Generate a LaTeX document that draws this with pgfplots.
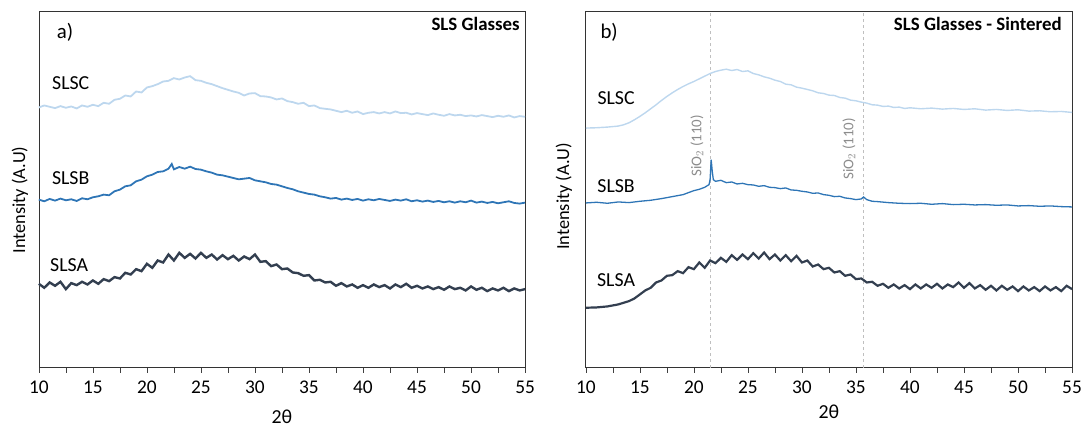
\documentclass[border=0pt]{standalone}
\usepackage{fontspec}
\setmainfont{Carlito}
\usepackage{pgfplots}
\pgfplotsset{compat=1.18}
\definecolor{slsc}{HTML}{BDD7EE}
\definecolor{slsb}{HTML}{2E75B6}
\definecolor{slsa}{HTML}{333F50}
\definecolor{refl}{HTML}{BFBFBF}
\definecolor{reft}{HTML}{8C8C8C}

\pgfplotsset{
  xrd/.style={
    scale only axis, width=488bp, height=358bp,
    xmin=10, xmax=55, ymin=0, ymax=1072,
    xtick={10,15,...,55}, minor xtick={12.5,17.5,...,52.5},
    ytick=\empty, tick align=outside, xtick pos=bottom,
    major tick length=5bp, minor tick length=5bp,
    tick style={black!75, line width=0.6bp},
    axis line style={black!80, line width=0.7bp},
    /pgf/number format/assume math mode=true,
    xticklabel style={font=\fontsize{19.5}{21}\selectfont, yshift=-5bp},
    clip=false,
  },
}
\tikzset{lab/.style={font=\fontsize{20}{22}\selectfont, anchor=center}}

\begin{document}
\begin{tikzpicture}
\useasboundingbox (-39bp,-59bp) rectangle (1048bp,369bp);
% ---- a) as-melted glasses
\begin{axis}[xrd]
\addplot[slsc, line width=1.8bp] table {
10 782
10.5 788
11 784
11.5 780
12 786
12.5 781
13 785
13.5 779
14 788
14.5 784
15 790
15.5 786
16 796
16.5 793
17 805
17.5 808
18 818
18.5 815
19 830
19.5 827
20 842
20.5 846
21 852
21.5 860
22 862
22.5 870
23 866
23.5 872
24 876
24.5 864
25 862
25.5 856
26 852
26.5 846
27 840
27.5 835
28 830
28.5 826
29 818
29.5 824
30 825
30.5 816
31 815
31.5 812
32 806
32.5 809
33 801
33.5 798
34 793
34.5 796
35 786
35.5 788
36 780
36.5 778
37 776
37.5 772
38 768
38.5 772
39 766
39.5 770
40 762
40.5 766
41 768
41.5 764
42 768
42.5 764
43 770
43.5 765
44 766
44.5 761
45 765
45.5 762
46 759
46.5 764
47 760
47.5 757
48 762
48.5 758
49 760
49.5 756
50 758
50.5 755
51 759
51.5 756
52 753
52.5 757
53 754
53.5 758
54 752
54.5 756
55 754
};
\addplot[slsb, line width=1.8bp] table {
10 505
10.5 500
11 507
11.5 502
12 508
12.5 503
13 506
13.5 501
14 509
14.5 506
15 512
15.5 515
16 520
16.5 518
17 530
17.5 535
18 545
18.5 548
19 560
19.5 565
20 575
20.5 580
21 588
21.5 590
22 598
22.3 612
22.5 596
23 603
23.5 598
24 604
24.5 597
25 595
25.5 590
26 586
26.5 580
27 578
27.5 574
28 570
28.5 566
29 568
29.5 570
30 563
30.5 560
31 557
31.5 552
32 550
32.5 545
33 540
33.5 536
34 530
34.5 526
35 522
35.5 520
36 515
36.5 512
37 508
37.5 510
38 505
38.5 508
39 504
39.5 507
40 502
40.5 506
41 503
41.5 507
42 504
42.5 501
43 505
43.5 502
44 506
44.5 500
45 503
45.5 499
46 502
46.5 498
47 501
47.5 497
48 500
48.5 496
49 500
49.5 497
50 502
50.5 496
51 499
51.5 495
52 498
52.5 494
53 497
53.5 500
54 495
54.5 493
55 496
};
\addplot[slsa, line width=2.4bp] table {
10 252
10.5 240
11 256
11.5 246
12 258
12.5 236
13 254
13.5 248
14 258
14.5 250
15 262
15.5 252
16 266
16.5 260
17 272
17.5 268
18 285
18.5 280
19 296
19.5 290
20 312
20.5 300
21 322
21.5 316
22 340
22.5 322
23 345
23.5 330
24 342
24.5 328
25 345
25.5 330
26 340
26.5 325
27 338
27.5 326
28 336
28.5 322
29 334
29.5 326
30 340
30.5 318
31 320
31.5 305
32 310
32.5 296
33 298
33.5 286
34 284
34.5 276
35 278
35.5 262
36 264
36.5 256
37 258
37.5 246
38 254
38.5 244
39 250
39.5 240
40 248
40.5 240
41 250
41.5 242
42 248
42.5 238
43 250
43.5 242
44 252
44.5 240
45 246
45.5 238
46 244
46.5 236
47 242
47.5 234
48 244
48.5 236
49 240
49.5 232
50 244
50.5 234
51 240
51.5 230
52 238
52.5 232
53 240
53.5 230
54 238
54.5 232
55 236
};
\node[lab] at (axis cs:12.95,855) {SLSC};
\node[lab] at (axis cs:12.95,570) {SLSB};
\node[lab] at (axis cs:12.8,308) {SLSA};
\node[font=\fontsize{21}{23}\selectfont, anchor=west] at (axis description cs:0.03,0.94) {a)};
\node[font=\bfseries\fontsize{19}{21}\selectfont, anchor=east] at (axis description cs:0.996,0.964) {SLS Glasses};
\node[font=\fontsize{18.5}{20}\selectfont, rotate=90] at (axis description cs:-0.039,0.47) {Intensity (A.U)};
\node[lab] at (axis description cs:0.5,-0.137) {2θ};
\end{axis}

% ---- b) sintered glasses
\begin{axis}[xrd, xshift=549bp]
\addplot[refl, dashed, line width=0.9bp] coordinates {(21.55,0) (21.55,1072)};
\addplot[refl, dashed, line width=0.9bp] coordinates {(35.7,0) (35.7,1072)};
\addplot[slsc, line width=1.4bp] table {
10 720
11 721
12 723
13 726
13.5 730
14 736
14.5 745
15 755
15.5 766
16 778
16.5 790
17 803
17.5 815
18 826
18.5 836
19 845
19.5 853
20 860
20.5 868
21 876
21.5 884
22 890
22.5 894
23 897
23.5 893
24 896
24.5 890
25 892
25.5 884
26 880
26.5 874
27 870
27.5 864
28 860
28.5 852
29 850
29.5 843
30 840
30.5 836
31 832
31.5 826
32 824
32.5 819
33 818
33.5 812
34 810
34.5 804
35 802
35.5 798
36 795
36.5 790
37 789
37.5 785
38 786
38.5 782
39 783
39.5 779
40 781
41 778
42 780
43 777
44 779
45 776
46 778
47 774
48 776
49 773
50 775
51 771
52 772
53 769
54 770
55 767
};
\addplot[slsb, line width=1.3bp] table {
10 495
11 497
12 494
13 498
14 496
15 500
16 503
17 508
18 514
19 520
20 532
20.5 536
21 542
21.4 550
21.5 565
21.6 625
21.7 590
21.8 565
22 560
22.5 563
23 556
23.5 558
24 552
24.5 554
25 550
25.5 549
26 545
26.5 547
27 542
27.5 541
28 538
28.5 540
29 534
29.5 533
30 530
30.5 528
31 524
31.5 525
32 520
32.5 518
33 514
33.5 515
34 510
34.5 508
35 505
35.5 507
35.7 513
36 505
36.5 500
37 499
38 496
39 494
40 493
41 494
42 491
43 493
44 490
45 491
46 489
47 490
48 488
49 489
50 486
51 487
52 485
53 486
54 484
55 483
};
\addplot[slsa, line width=2.2bp] table {
10 180
11 181
12 184
13 190
13.5 195
14 200
14.5 208
15 220
15.5 232
16 240
16.5 256
17 262
17.5 276
18 278
18.5 290
19 284
19.5 302
20 296
20.5 316
21 300
21.5 322
22 314
22.5 330
23 318
23.5 338
24 324
24.5 340
25 326
25.5 344
26 328
26.5 346
27 326
27.5 340
28 322
28.5 338
29 320
29.5 336
30 316
30.5 322
31 304
31.5 310
32 296
32.5 300
33 286
33.5 290
34 276
34.5 280
35 266
35.5 268
36 256
36.5 258
37 246
37.5 252
38 240
38.5 250
39 238
39.5 248
40 236
40.5 250
41 238
41.5 250
42 240
42.5 252
43 238
43.5 250
44 242
44.5 256
45 240
45.5 254
46 238
46.5 248
47 234
47.5 246
48 232
48.5 246
49 234
49.5 244
50 230
50.5 244
51 232
51.5 242
52 230
52.5 244
53 232
53.5 242
54 230
54.5 246
55 236
};
\node[lab] at (axis cs:12.8,810) {SLSC};
\node[lab] at (axis cs:12.8,545) {SLSB};
\node[lab] at (axis cs:12.8,262) {SLSA};
\node[font=\fontsize{15}{17}\selectfont, text=reft, rotate=90] at (axis cs:20.28,667) {SiO$_2$ (110)};
\node[font=\fontsize{15}{17}\selectfont, text=reft, rotate=90] at (axis cs:34.35,658) {SiO$_2$ (110)};
\node[font=\fontsize{21}{23}\selectfont, anchor=west] at (axis description cs:0.023,0.94) {b)};
\node[font=\bfseries\fontsize{19}{21}\selectfont, anchor=east] at (axis description cs:0.986,0.964) {SLS Glasses - Sintered};
\node[font=\fontsize{18.5}{20}\selectfont, rotate=90] at (axis description cs:-0.045,0.48) {Intensity (A.U)};
\node[lab] at (axis description cs:0.5,-0.123) {2θ};
\end{axis}
\end{tikzpicture}
\end{document}
